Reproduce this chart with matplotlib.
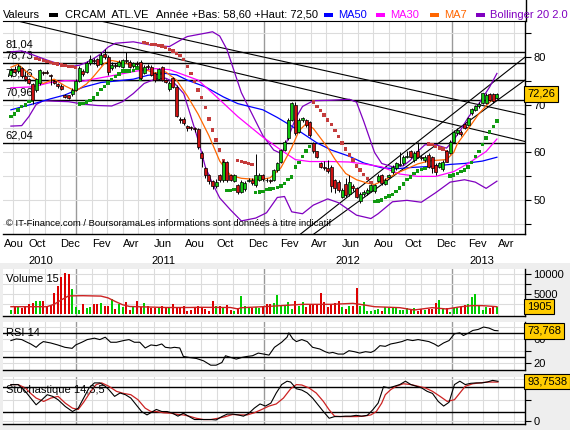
import matplotlib
matplotlib.use("Agg")
import matplotlib.pyplot as plt
from matplotlib.patches import Rectangle
import pandas as pd

plt.rcParams['font.family'] = ['Liberation Sans', 'DejaVu Sans']

# weekly candles, first week ending 2010-08-27
start = pd.Timestamp("2010-08-27")

opens = [76.2, 77.4, 77.0, 77.6, 76.0, 75.4, 74.2, 73.0, 74.4, 76.8, 76.9, 76.2, 75.0, 74.2, 73.9, 72.0, 71.9, 72.2, 73.0, 75.0,
         77.1, 76.8, 78.6, 79.4, 79.5, 78.5, 80.5, 80.0, 77.6, 78.3, 78.0, 77.9, 79.3, 78.9, 78.0, 78.6, 78.9, 76.6, 78.1, 77.9,
         76.6, 75.4, 77.8, 75.1, 73.2, 75.5, 73.7, 67.0, 67.0, 65.5, 65.3, 65.0, 64.8, 59.8, 56.7, 55.3, 54.0, 52.9, 55.3, 54.2,
         58.0, 55.2, 54.0, 53.2, 51.8, 52.3, 54.0, 54.3, 53.1, 54.3, 55.3, 54.3, 54.2, 54.2, 56.3, 58.0, 60.5, 63.0, 66.8, 69.9,
         64.3, 66.8, 66.8, 66.4, 61.9, 60.2, 57.7, 57.0, 56.8, 57.0, 54.2, 53.9, 50.8, 53.5, 51.3, 52.9, 52.5, 49.8, 51.4, 51.5,
         52.0, 51.9, 54.0, 55.3, 53.5, 54.9, 55.9, 56.7, 57.3, 57.7, 59.0, 60.2, 58.4, 60.2, 59.1, 58.4, 59.5, 59.1, 57.4, 57.0,
         56.6, 60.2, 59.8, 62.2, 64.0, 64.3, 65.9, 65.8, 68.2, 68.9, 69.6, 70.4, 70.4, 72.3, 72.3, 71.4]
highs = [77.6, 78.1, 78.5, 77.8, 76.3, 75.6, 74.4, 75.6, 77.5, 77.0, 77.2, 76.4, 75.2, 74.5, 74.3, 72.3, 72.0, 73.4, 75.3, 78.0,
         77.4, 79.0, 80.4, 79.8, 79.8, 81.0, 81.6, 80.3, 78.8, 78.6, 79.2, 79.6, 81.0, 79.2, 78.9, 79.0, 79.2, 78.3, 78.4, 78.2,
         76.9, 77.7, 78.1, 75.4, 75.0, 75.8, 74.0, 67.3, 67.4, 65.7, 65.6, 65.3, 65.0, 60.2, 57.0, 55.6, 54.3, 54.5, 55.6, 58.4,
         58.3, 55.5, 55.6, 53.5, 54.3, 54.0, 54.6, 54.6, 59.6, 55.8, 55.6, 54.6, 54.4, 56.6, 58.0, 60.8, 62.6, 67.2, 70.6, 70.6,
         67.2, 67.5, 67.0, 66.6, 62.2, 60.4, 58.0, 58.2, 58.5, 57.3, 54.5, 54.2, 52.6, 54.7, 55.3, 53.5, 52.8, 51.7, 52.1, 52.5,
         53.5, 53.4, 55.4, 55.6, 54.7, 55.6, 57.3, 58.0, 60.0, 59.4, 60.4, 60.5, 60.2, 62.2, 59.4, 59.5, 59.8, 59.3, 57.7, 58.1,
         58.4, 60.5, 62.5, 64.7, 65.1, 64.6, 66.2, 67.5, 69.3, 69.9, 70.5, 72.5, 72.5, 72.5, 72.4, 72.5]
lows = [75.8, 76.5, 76.6, 75.6, 75.0, 74.3, 70.2, 72.6, 74.0, 76.2, 76.4, 74.0, 74.2, 73.5, 73.0, 71.3, 71.2, 71.8, 72.8, 74.8,
        76.0, 76.6, 78.3, 78.4, 77.8, 78.2, 79.6, 76.2, 77.3, 77.7, 77.8, 77.6, 78.6, 77.6, 77.7, 78.0, 75.2, 76.3, 77.5, 75.9,
        74.8, 75.1, 74.9, 74.5, 72.9, 73.4, 67.3, 66.2, 65.7, 64.5, 64.6, 64.2, 60.8, 57.0, 54.6, 53.5, 52.4, 52.5, 53.9, 53.9,
        53.8, 54.0, 53.8, 51.4, 51.5, 52.0, 53.8, 53.3, 52.8, 54.0, 54.0, 53.9, 53.6, 54.0, 56.0, 57.8, 60.3, 62.7, 66.5, 63.6,
        64.0, 66.4, 65.3, 63.2, 59.9, 58.8, 56.7, 56.3, 55.8, 51.8, 51.6, 51.8, 50.5, 50.8, 51.0, 52.0, 50.4, 49.5, 51.0, 51.2,
        51.7, 51.6, 53.8, 53.3, 53.2, 54.6, 55.6, 56.4, 57.1, 57.4, 58.8, 58.8, 58.1, 58.8, 58.5, 58.0, 56.7, 55.8, 55.3, 56.7,
        56.2, 57.9, 59.6, 61.9, 63.7, 63.5, 64.9, 65.5, 67.9, 68.6, 69.3, 70.1, 70.1, 70.7, 70.4, 71.2]
closes = [77.2, 76.9, 78.0, 76.0, 75.4, 74.6, 71.0, 75.3, 77.3, 76.6, 76.6, 75.9, 74.4, 73.8, 73.2, 71.6, 71.4, 73.1, 75.0, 77.7,
          76.4, 78.6, 79.5, 79.0, 78.3, 80.3, 79.9, 76.8, 78.3, 78.0, 78.8, 79.3, 79.0, 77.9, 78.6, 78.4, 75.5, 77.9, 77.9, 76.2,
          75.1, 77.4, 75.1, 74.8, 74.6, 73.7, 67.6, 66.8, 66.1, 65.2, 65.0, 64.8, 61.2, 58.8, 55.3, 54.0, 52.9, 53.9, 54.3, 58.0,
          54.2, 54.3, 55.2, 51.8, 53.9, 53.6, 54.3, 53.6, 55.3, 55.3, 54.4, 54.2, 54.0, 56.3, 57.7, 60.5, 62.2, 66.8, 70.3, 64.0,
          66.8, 67.1, 65.7, 63.6, 60.2, 59.1, 57.0, 56.7, 56.1, 52.9, 52.5, 52.2, 52.2, 51.1, 53.9, 52.6, 50.8, 51.4, 51.8, 52.2,
          53.2, 53.1, 55.0, 53.6, 54.3, 55.3, 57.0, 57.7, 57.6, 59.1, 59.2, 59.1, 59.8, 59.1, 58.8, 59.1, 57.0, 56.7, 56.0, 57.8,
          58.1, 58.1, 62.2, 64.3, 64.7, 63.9, 65.2, 67.1, 69.0, 69.6, 70.2, 72.5, 72.0, 71.0, 70.7, 72.26]

# parabolic SAR, one dot per week
sar = [67.5, 68.0, 68.9, 69.6, 69.9, 70.6, 70.9, 79.6, 79.4, 79.2, 79.0, 78.8, 78.6, 78.5, 78.3, 78.2, 78.0, 77.9, 77.7, 70.1,
       70.2, 70.5, 70.9, 71.4, 72.2, 73.1, 73.8, 74.5, 75.2, 75.8, 76.4, 77.0, 77.0, 77.0, 77.1, 77.6, 75.2, 83.0, 82.8, 82.6,
       82.6, 82.3, 82.2, 81.9, 81.5, 81.2, 80.6, 80.3, 79.4, 78.0, 76.5, 74.8, 73.0, 71.5, 69.4, 67.0, 64.7, 62.6, 60.5, 58.2,
       52.0, 52.1, 52.2, 58.3, 58.1, 57.9, 57.7, 57.5, 51.6, 51.7, 51.9, 52.2, 52.4, 52.5, 52.7, 53.0, 53.5, 54.4, 54.9, 57.0,
       57.9, 59.1, 60.3, 61.3, 70.5, 69.6, 68.7, 67.8, 66.8, 65.8, 64.6, 63.3, 62.0, 60.7, 59.5, 58.4, 57.2, 56.3, 55.4, 54.5,
       53.7, 49.7, 49.9, 50.1, 50.6, 50.9, 51.2, 51.8, 52.6, 53.4, 54.3, 54.9, 55.6, 56.1, 56.4, 56.6, 61.8, 61.7, 61.3, 60.9,
       60.7, 60.2, 55.1, 55.3, 55.6, 56.0, 56.3, 57.0, 57.9, 59.1, 60.2, 61.6, 63.0, 64.3, 65.4, 66.6]

volume = [1075, 1900, 1900, 1660, 2075, 2575, 2900, 3325, 3325, 3325, 2160, 2325, 5250, 7150, 9325, 10325, 10075, 6325, 1900, 1075,
          2490, 1660, 1900, 2575, 2575, 2740, 2160, 2160, 3825, 1325, 2575, 1900, 3160, 990, 1900, 3325, 1900, 2740, 2160, 1660,
          1660, 1900, 2160, 1900, 1900, 2490, 1900, 1490, 2160, 825, 1075, 1660, 2160, 1660, 1325, 825, 3325, 2160, 2160, 1660,
          2325, 1075, 900, 1660, 4575, 2160, 1660, 1490, 1900, 1490, 1900, 2490, 2490, 2740, 4825, 2160, 2160, 2990, 1325, 3325,
          2160, 2990, 1900, 2490, 2325, 2325, 5325, 3160, 1900, 2660, 2740, 3325, 1900, 1325, 2160, 2160, 6575, 2160, 2990, 900,
          825, 990, 1325, 900, 1900, 1490, 1490, 1660, 1075, 1075, 1490, 1325, 1660, 825, 1325, 1075, 1325, 1325, 2900, 3575,
          1490, 1490, 575, 1490, 1660, 1900, 2325, 2490, 4410, 5160, 1990, 1075, 1900, 1490, 1900, 1905]

# indicator lines, read at sample weeks
ma50_wk = [0, 3, 6, 11, 15, 20, 25, 29, 34, 38, 43, 46, 49, 54, 59, 63, 70, 74, 78, 81, 85, 89, 94, 98, 103, 107, 112, 117, 122, 126, 131, 135]
ma50 = [68.9, 69.5, 70.1, 71.2, 72.0, 73.6, 74.6, 74.9, 75.3, 76.1, 76.5, 76.2, 75.1, 73.7, 71.6, 70.2, 68.9, 67.3, 65.5, 64.0, 62.0, 60.5, 59.2, 57.8, 56.8, 56.6, 56.9, 57.1, 57.5, 57.7, 58.2, 59.0]

ma30_wk = [0, 6, 11, 15, 20, 25, 30, 35, 40, 44, 48, 52, 57, 63, 70, 75, 79, 83, 89, 94, 98, 103, 108, 113, 118, 123, 127, 132, 135]
ma30 = [73.5, 73.7, 74.6, 75.0, 74.9, 75.6, 76.3, 77.0, 77.5, 77.3, 76.2, 75.1, 71.7, 67.5, 63.2, 60.5, 58.5, 58.1, 58.1, 58.0, 57.6, 57.0, 55.5, 55.0, 55.0, 56.0, 57.7, 60.2, 62.8]

ma7_wk = [0, 2, 5, 7, 9, 12, 15, 18, 21, 23, 26, 28, 32, 36, 40, 43, 46, 49, 52, 55, 58, 61, 64, 69, 72, 75, 78, 80, 82, 84,
          86, 88, 90, 93, 96, 99, 101, 104, 107, 110, 113, 115, 117, 121, 123, 124, 127, 130, 133, 135]
ma7 = [77.8, 78.4, 76.4, 75.2, 74.4, 75.3, 73.9, 72.8, 74.3, 75.9, 78.6, 79.2, 78.6, 77.6, 76.6, 76.8, 75.1, 71.8, 68.0, 63.5,
       58.2, 55.2, 54.6, 54.3, 54.7, 56.8, 61.0, 64.5, 66.0, 65.0, 63.0, 61.0, 58.6, 55.6, 54.3, 53.6, 53.3, 54.3, 55.6, 56.6,
       57.6, 58.0, 58.3, 58.5, 60.0, 61.8, 64.9, 68.1, 70.5, 71.5]

bb_up_wk = [0, 3, 6, 10, 14, 17, 19, 21, 23, 25, 27, 29, 34, 39, 44, 47, 49, 54, 56, 58, 60, 62, 64, 67, 70, 73, 75, 76, 79, 81,
            84, 89, 94, 96, 98, 101, 103, 106, 109, 111, 113, 115, 118, 121, 123, 125, 127, 130, 133, 135]
bb_up = [81.0, 81.2, 80.4, 79.3, 78.3, 78.0, 78.2, 78.8, 79.6, 80.6, 82.0, 82.8, 83.1, 82.4, 82.1, 83.4, 84.2, 84.9, 85.2, 84.3,
         81.5, 77.0, 72.5, 68.0, 63.5, 60.5, 59.8, 61.0, 67.0, 69.6, 70.8, 70.9, 71.1, 70.5, 66.5, 60.0, 57.7, 57.0, 57.2, 58.4,
         60.2, 61.6, 61.6, 60.9, 62.6, 64.8, 67.3, 70.2, 73.7, 76.5]
bb_lo_wk = [0, 3, 5, 7, 9, 12, 16, 20, 24, 28, 31, 34, 37, 40, 43, 45, 48, 50, 52, 54, 56, 58, 61, 64, 68, 71, 74, 76, 78, 81,
            84, 88, 91, 96, 100, 102, 106, 110, 114, 118, 122, 126, 129, 132, 135]
bb_lo = [65.5, 65.6, 67.5, 70.0, 70.8, 70.7, 70.6, 70.1, 69.8, 69.7, 70.6, 72.3, 74.4, 75.3, 75.5, 74.8, 72.3, 67.5, 62.6, 57.0,
         53.5, 50.5, 48.0, 45.7, 46.3, 47.4, 50.6, 50.8, 47.6, 47.2, 49.0, 50.3, 49.5, 46.9, 46.2, 47.2, 49.7, 50.0, 49.6, 51.6,
         53.8, 54.3, 53.8, 52.5, 54.0]

vol_ma_wk = [0, 10, 12, 14, 16, 20, 25, 27, 29, 31, 33, 43, 49, 53, 61, 63, 64, 70, 75, 81, 89, 95, 97, 101, 108, 112, 117, 121, 125, 128, 131, 135]
vol_ma = [1900, 1900, 2500, 3600, 4600, 4650, 4550, 4100, 3200, 2400, 1950, 1700, 1700, 1750, 1700, 1350, 1650, 1900, 2160, 2490,
          2490, 2740, 2490, 1900, 1660, 1075, 1660, 1325, 1900, 2160, 2160, 1905]

rsi_wk = [0, 1.5, 3, 4.5, 5.5, 7, 8, 9, 11, 13, 15, 17, 18, 19.7, 21.2, 23.2, 24.7, 26.2, 27.7, 29.3, 31.3, 32.8, 34.3, 35.8,
          37.3, 38.9, 40.4, 41.9, 42.9, 44.4, 45.4, 46.9, 47.9, 49.5, 51.5, 53.5, 55.5, 57, 58.6, 59.6, 61.1, 62.6, 64.1, 65.6,
          67.1, 68.7, 70.2, 71.7, 73.2, 75.2, 76.7, 77.2, 78.3, 79.3, 80.8, 82.3, 83.8, 85.8, 87.3, 88.4, 89.4, 90.9, 92.4, 93.9,
          95.4, 96.9, 98.5, 100, 101, 102.5, 104, 105.5, 107, 108.6, 110.1, 111.6, 113.1, 114.6, 116.1, 117.6, 118.7, 120.2,
          121.7, 123.2, 124.7, 125.7, 127.2, 128.3, 129.8, 131.3, 132.8, 134.3, 135.3]
rsi = [57.7, 60.4, 59.3, 54.9, 52.1, 46.6, 52.1, 56.0, 53.8, 50.5, 46.6, 44.9, 50.5, 54.9, 59.3, 61.6, 59.3, 63.2, 54.9, 54.9,
       57.7, 59.3, 54.9, 54.9, 45.5, 50.5, 49.3, 52.1, 46.6, 45.5, 46.6, 45.5, 31.6, 29.9, 28.3, 24.4, 17.2, 17.2, 21.6, 32.7,
       29.9, 27.2, 29.9, 31.6, 32.7, 37.1, 35.5, 33.8, 46.6, 54.9, 63.2, 70.4, 60.4, 56.0, 59.3, 56.0, 46.6, 43.8, 39.4, 37.1,
       38.2, 35.5, 35.5, 41.0, 39.4, 37.1, 39.4, 38.2, 41.0, 49.3, 48.2, 52.1, 53.8, 56.0, 59.3, 57.7, 59.3, 57.7, 56.0, 52.1,
       48.2, 53.8, 57.7, 68.8, 70.4, 66.0, 70.4, 74.3, 76.0, 79.9, 78.2, 74.3, 73.8]

stk_wk = [0, 2, 4, 5.5, 7, 8.6, 10.1, 11.6, 13.1, 15.1, 17.1, 18.7, 20.2, 21.7, 23.2, 24.7, 26.2, 27.2, 28.8, 30.3, 31.8, 33.3,
          34.8, 36.3, 37.8, 39.4, 40.4, 41.9, 43.4, 44.9, 46.4, 47.9, 49.5, 51, 52.5, 54, 55.5, 57, 58.6, 60.1, 61.6, 63.1, 64.6,
          66.1, 67.6, 69.2, 70.7, 72.2, 73.7, 75.2, 76.7, 77.7, 79.3, 80.8, 82.3, 83.8, 85.3, 86.8, 88.4, 89.9, 91.4, 92.9, 94.4,
          95.9, 97.4, 99, 100.5, 102, 103.5, 105, 106.5, 108, 109.6, 111.1, 112.6, 114.1, 115.6, 117.1, 118.7, 120.2, 121.7,
          123.2, 124.7, 126.2, 127.7, 129.3, 130.8, 132.3, 133.8, 135.3]
stk = [86, 86, 70, 54, 38, 50, 62, 58, 50, 34, 22, 30, 54, 78, 90, 90, 82, 74, 58, 66, 62, 54, 38, 22, 14, 22, 27, 22, 22, 18,
       11, 18, 10, 3, 3, 3, 3, 2, 10, 16, 16, 14, 11, 18, 30, 40, 35, 42, 66, 86, 94, 92, 76, 73, 66, 54, 38, 22, 6, 10,
       10, 11, 11, 13, 11, 13, 26, 42, 81, 78, 82, 86, 94, 86, 82, 78, 70, 65, 46, 35, 44, 86, 94, 86, 89, 90, 90, 92, 96, 93.75]
std_wk = [0, 2, 4, 5.5, 7, 9.1, 11.1, 13.1, 15.1, 17.1, 18.7, 20.2, 22.2, 23.7, 25.2, 27.2, 29.3, 31.3, 33.3, 35.3, 37.3, 38.9,
          40.4, 42.4, 44.4, 46.4, 47.9, 49.5, 51.5, 53.5, 55.5, 57.5, 59.6, 61.6, 63.6, 65.6, 67.6, 69.7, 71.7, 73.7, 75.7, 77.7,
          79.3, 80.8, 82.8, 84.8, 86.8, 88.4, 89.9, 91.9, 93.9, 95.9, 98, 100, 101.5, 103, 104, 105.5, 107, 109, 111.1, 113.1,
          115.1, 117.1, 119.2, 121.2, 123.2, 124.7, 126.2, 128.3, 130.3, 132.3, 134.3, 135.3]
std = [86, 86, 78, 65, 54, 46, 54, 58, 42, 30, 27, 44, 70, 86, 90, 82, 70, 65, 62, 50, 30, 22, 22, 19, 18, 15, 14, 11, 6, 3,
       3, 6, 10, 15, 14, 14, 19, 27, 35, 40, 54, 76, 86, 85, 78, 66, 46, 26, 11, 10, 10, 10, 11, 14, 22, 42, 62, 74, 82, 88,
       86, 82, 78, 70, 58, 46, 50, 66, 82, 88, 90, 92, 92, 92]

levels = [81.04, 78.73, 75.06, 70.96, 62.04]
level_labels = ["81,04", "78,73", "75,06", "70,96", "62,04"]
# trend lines, two points each (week, price)
trends = [((12.2, 85.6), (113.6, 67.5)), ((77.5, 78.7), (113.6, 72.7)),
          ((113.6, 62.6), (142.8, 79.9)), ((113.6, 59.1), (142.8, 75.1))]

month_names = ["Jan", "Fev", "Mar", "Avr", "Mai", "Jun", "Jul", "Aou", "Sep", "Oct", "Nov", "Dec"]
year_label_dates = ["2010-10-25", "2011-06-20", "2012-06-12", "2013-02-28"]

W, H = 570, 430
GREEN, RED = "#11c611", "#cc1111"
XMIN, XMAX = -2.2, 142.8


def wk(d):
    return (pd.Timestamp(d) - start).days / 7.0


def box(top, bottom, left=3, right=525):
    return [left / W, 1 - bottom / H, (right - left) / W, (bottom - top) / H]


fig = plt.figure(figsize=(W / 100, H / 100), dpi=100)
fig.patch.set_facecolor("#eeeeee")
fig.add_artist(Rectangle((0, 1 - 263 / H), 1, 263 / H, transform=fig.transFigure,
                         facecolor="white", edgecolor="none", zorder=-5))

months = pd.date_range("2010-08-01", "2013-06-01", freq="MS")
mpos = [wk(m) for m in months]
n = len(closes)
x = list(range(n))
up = [c >= o for o, c in zip(opens, closes)]


def grid_months(ax):
    for m, p in zip(months, mpos):
        if m.month == 1:
            ax.axvline(p, color="#9a9a9a", lw=1.0, zorder=0.5)
        else:
            ax.axvline(p, color="#dcdcdc", lw=0.8, zorder=0.5)


def style(ax):
    ax.set_xlim(XMIN, XMAX)
    ax.set_xticks([])
    ax.yaxis.tick_right()
    ax.tick_params(axis="y", direction="out", length=4, width=0.8, labelsize=8, pad=2)
    ax.spines["left"].set_visible(False)
    ax.spines["top"].set_visible(False)
    for s in ["right", "bottom"]:
        ax.spines[s].set_linewidth(1.0)
    ax.yaxis.grid(True, color="#dcdcdc", lw=0.8)
    ax.set_axisbelow(True)
    grid_months(ax)


def value_box(ax, y, txt):
    ax.text(1.004, y, txt, transform=ax.get_yaxis_transform(), fontsize=8, va="center", ha="left",
            bbox=dict(boxstyle="square,pad=0.25", fc="#ffcc00", ec="black", lw=0.8), zorder=10, clip_on=False)


# ---- main price panel ----
ax = fig.add_axes(box(20.5, 234))
style(ax)
ax.spines["top"].set_visible(True)
ax.set_ylim(42.97, 87.55)
ax.set_yticks(range(45, 90, 5))
ax.set_yticklabels(["" if v % 10 else str(v) for v in range(45, 90, 5)])

for lv, lab in zip(levels, level_labels):
    ax.axhline(lv, color="black", lw=1.0, zorder=2)
    ax.annotate(lab, (0.005, lv), xycoords=ax.get_yaxis_transform(), xytext=(0, 1.5),
                textcoords="offset points", fontsize=8, va="bottom", ha="left", zorder=3)
for p1, p2 in trends:
    ax.axline(p1, p2, color="black", lw=0.8, zorder=2)

ax.plot(bb_up_wk, bb_up, color="#8000c0", lw=0.9, zorder=3)
ax.plot(bb_lo_wk, bb_lo, color="#8000c0", lw=0.9, zorder=3)
ax.plot(ma50_wk, ma50, color="#0000ff", lw=0.9, zorder=3)
ax.plot(ma30_wk, ma30, color="#ff00ff", lw=0.9, zorder=3)
ax.plot(ma7_wk, ma7, color="#ff6600", lw=0.9, zorder=3)

sar_col = ["#c43c3c" if s > c else "#109a10" for s, c in zip(sar, closes)]
ax.scatter(x, sar, marker="s", s=6, c=sar_col, linewidths=0, zorder=4)

ax.vlines(x, lows, highs, color="black", lw=0.7, zorder=5)
bottoms = [min(o, c) for o, c in zip(opens, closes)]
heights = [abs(c - o) for o, c in zip(opens, closes)]
ax.bar(x, heights, bottom=bottoms, width=0.8, color=[GREEN if u else RED for u in up],
       edgecolor="black", linewidth=0.5, zorder=6)

ax.text(0.006, 0.03, "\u00a9 IT-Finance.com / BoursoramaLes informations sont donn\u00e9es \u00e0 titre indicatif",
        transform=ax.transAxes, fontsize=6.8, va="bottom", ha="left", zorder=7)
value_box(ax, closes[-1], "72,26")

# month and year labels
for m, p in zip(months, mpos):
    if m.month % 2 == 0 and p < XMAX - 4:
        ax.text(max(p, XMIN + 0.2), -0.025, month_names[m.month - 1], transform=ax.get_xaxis_transform(),
                fontsize=8, ha="left", va="top")
for d in year_label_dates:
    ax.text(wk(d), -0.105, d[:4], transform=ax.get_xaxis_transform(), fontsize=8, ha="center", va="top")

# ---- header ----
hy = 1 - 14.5 / H
fig.text(3 / W, hy, "Valeurs", fontsize=8, va="center")
fig.text(65 / W, hy, "CRCAM  ATL.VE", fontsize=8, va="center")
fig.text(156 / W, hy, "Ann\u00e9e +Bas: 58,60 +Haut: 72,50", fontsize=8, va="center")
legend = [(49, "black", None), (324, "#0000ff", "MA50"), (376, "#ff00ff", "MA30"),
          (430, "#ff6600", "MA7"), (476, "#8000c0", "Bollinger 20 2.0")]
for lx, col, lab in legend:
    fig.add_artist(Rectangle((lx / W, 1 - 16.5 / H), 9 / W, 4 / H, transform=fig.transFigure,
                             facecolor=col, edgecolor="none"))
    if lab:
        fig.text((lx + 14) / W, hy, lab, fontsize=8, va="center", color=col)
fig.add_artist(plt.Line2D([525.5 / W, 525.5 / W], [1 - 20.5 / H, 1], transform=fig.transFigure,
                          color="black", lw=1.0))

# ---- volume panel ----
axv = fig.add_axes(box(269, 316))
style(axv)
axv.set_ylim(-425, 11325)
axv.set_yticks([2500, 5000, 7500, 10000])
axv.set_yticklabels(["", "5000", "", "10000"])
axv.bar(x, volume, width=0.55, color=["#00cc00" if u else "#dd0000" for u in up], zorder=3)
axv.plot(vol_ma_wk, vol_ma, color="#cc2222", lw=1.0, zorder=4)
axv.text(0.005, 0.79, "Volume 15", transform=axv.transAxes, fontsize=8, va="center")
value_box(axv, 1905, "1905")

# ---- RSI panel ----
axr = fig.add_axes(box(322, 370))
style(axr)
axr.set_ylim(9.3, 88.2)
axr.set_yticks([20, 40, 60, 80])
axr.set_yticklabels(["20", "", "60", ""])
axr.axhline(70, color="black", lw=1.0, zorder=2)
axr.axhline(30, color="black", lw=1.0, zorder=2)
axr.plot(rsi_wk, rsi, color="black", lw=0.8, zorder=3)
axr.text(0.005, 0.77, "RSI 14", transform=axr.transAxes, fontsize=8, va="center")
value_box(axr, rsi[-1], "73,768")

# ---- stochastic panel ----
axs = fig.add_axes(box(377, 424))
style(axs)
axs.set_ylim(-7.6, 104)
axs.set_yticks([0, 50, 100])
axs.set_yticklabels(["0", "", ""])
axs.axhline(80, color="black", lw=1.0, zorder=2)
axs.axhline(20, color="black", lw=1.0, zorder=2)
axs.plot(std_wk, std, color="#cc2222", lw=0.9, zorder=3)
axs.plot(stk_wk, stk, color="black", lw=0.8, zorder=4)
axs.text(0.005, 0.72, "Stochastique 14,3,5", transform=axs.transAxes, fontsize=8, va="center")
value_box(axs, stk[-1], "93,7538")

fig.savefig("out.png", dpi=100, facecolor=fig.get_facecolor())
